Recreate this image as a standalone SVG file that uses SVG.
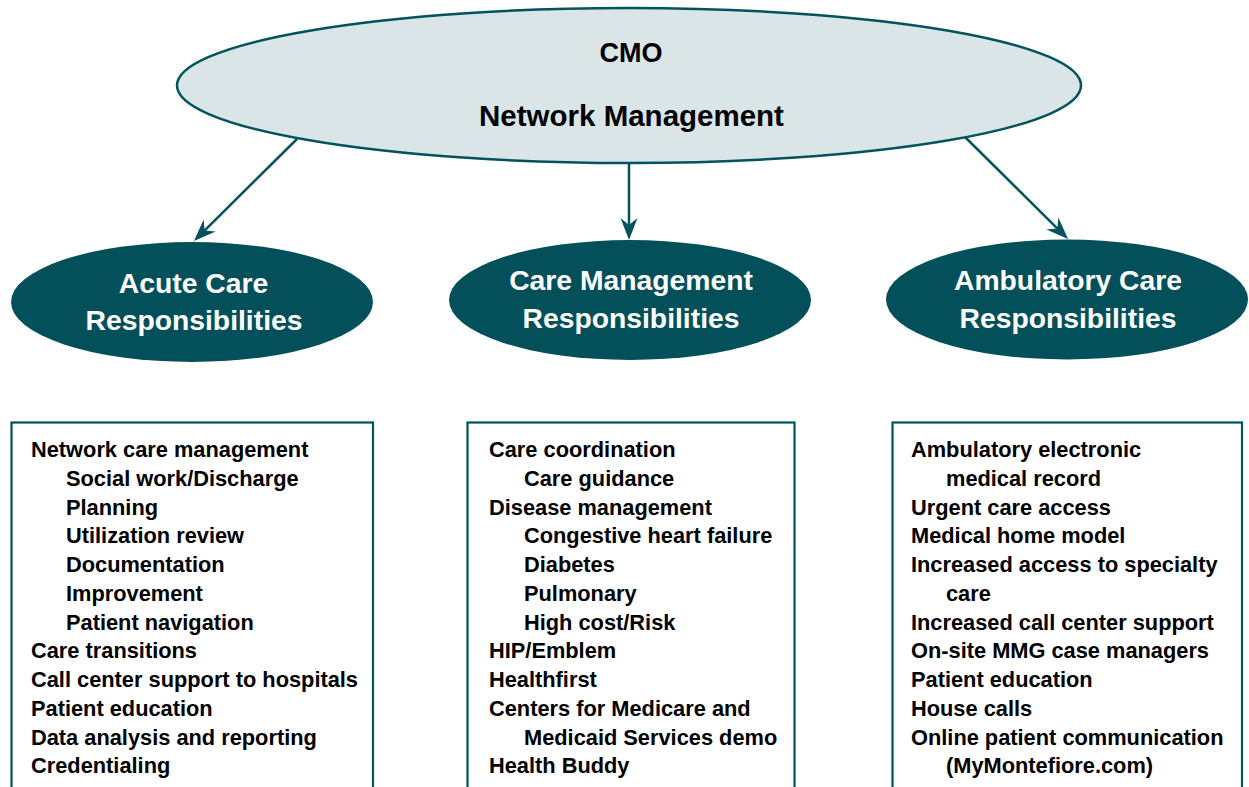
<svg xmlns="http://www.w3.org/2000/svg" width="1249" height="787" viewBox="0 0 1249 787">
  <style>
    .top { fill: #d9e5e7; stroke: #03525c; stroke-width: 2.5; }
    .role { fill: #03505a; }
    .box { fill: #ffffff; stroke: #03525c; stroke-width: 2.2; }
    .link { stroke: #03525c; stroke-width: 2.5; fill: none; marker-end: url(#head); }
    .t-top { font-family: "Liberation Sans", Arial, sans-serif; font-weight: bold; fill: #000; text-anchor: middle; }
    .t-role { font-family: "Liberation Sans", Arial, sans-serif; font-weight: bold; font-size: 28.3px; fill: #ffffff; text-anchor: middle; }
    .t-list { font-family: "Liberation Sans", Arial, sans-serif; font-weight: bold; font-size: 21.8px; fill: #000; }
  </style>
  <defs>
    <marker id="head" markerUnits="userSpaceOnUse" viewBox="-23 -10 24 20" refX="-12" refY="0" markerWidth="24" markerHeight="20" orient="auto">
      <path d="M0,0 L-22,-8.5 L-15,0 L-22,8.5 Z" fill="#03525c"/>
    </marker>
  </defs>

  <rect width="1249" height="787" fill="#ffffff"/>

  <!-- connectors -->
  <g id="connectors">
    <line class="link" x1="297" y1="139" x2="202.5" y2="232.6"/>
    <line class="link" x1="629" y1="163" x2="629" y2="228"/>
    <line class="link" x1="964" y1="136" x2="1059.5" y2="230.6"/>
  </g>

  <!-- root -->
  <g id="cmo">
    <ellipse class="top" cx="629" cy="85.5" rx="452" ry="77.5"/>
    <text class="t-top" x="631" y="62" font-size="27">CMO</text>
    <text class="t-top" x="631.5" y="126" font-size="29.5">Network Management</text>
  </g>

  <!-- branches -->
  <g id="acute">
    <ellipse class="role" cx="192" cy="302" rx="181" ry="60"/>
    <text class="t-role" x="193.5" y="293">Acute Care</text>
    <text class="t-role" x="194" y="330">Responsibilities</text>
  </g>
  <g id="caremgmt">
    <ellipse class="role" cx="630" cy="300" rx="181" ry="60"/>
    <text class="t-role" x="631" y="290">Care Management</text>
    <text class="t-role" x="631" y="328">Responsibilities</text>
  </g>
  <g id="ambulatory">
    <ellipse class="role" cx="1067" cy="299.5" rx="181" ry="60"/>
    <text class="t-role" x="1068" y="290">Ambulatory Care</text>
    <text class="t-role" x="1068" y="328">Responsibilities</text>
  </g>

  <!-- detail lists -->
  <g id="acute-list">
    <rect class="box" x="11.5" y="422.5" width="361.5" height="380"/>
    <text class="t-list" x="31" y="457">Network care management</text>
    <text class="t-list" x="66" y="485.7">Social work/Discharge</text>
    <text class="t-list" x="66" y="514.5">Planning</text>
    <text class="t-list" x="66" y="543.2">Utilization review</text>
    <text class="t-list" x="66" y="572">Documentation</text>
    <text class="t-list" x="66" y="600.7">Improvement</text>
    <text class="t-list" x="66" y="629.5">Patient navigation</text>
    <text class="t-list" x="31" y="658.2">Care transitions</text>
    <text class="t-list" x="31" y="687">Call center support to hospitals</text>
    <text class="t-list" x="31" y="715.7">Patient education</text>
    <text class="t-list" x="31" y="744.5">Data analysis and reporting</text>
    <text class="t-list" x="31" y="773.2">Credentialing</text>
  </g>
  <g id="caremgmt-list">
    <rect class="box" x="467.5" y="422.5" width="327" height="380"/>
    <text class="t-list" x="489" y="457">Care coordination</text>
    <text class="t-list" x="524" y="485.7">Care guidance</text>
    <text class="t-list" x="489" y="514.5">Disease management</text>
    <text class="t-list" x="524" y="543.2">Congestive heart failure</text>
    <text class="t-list" x="524" y="572">Diabetes</text>
    <text class="t-list" x="524" y="600.7">Pulmonary</text>
    <text class="t-list" x="524" y="629.5">High cost/Risk</text>
    <text class="t-list" x="489" y="658.2">HIP/Emblem</text>
    <text class="t-list" x="489" y="687">Healthfirst</text>
    <text class="t-list" x="489" y="715.7">Centers for Medicare and</text>
    <text class="t-list" x="524" y="744.5">Medicaid Services demo</text>
    <text class="t-list" x="489" y="773.2">Health Buddy</text>
  </g>
  <g id="ambulatory-list">
    <rect class="box" x="892.5" y="422.5" width="349.5" height="380"/>
    <text class="t-list" x="911" y="457">Ambulatory electronic</text>
    <text class="t-list" x="946" y="485.7">medical record</text>
    <text class="t-list" x="911" y="514.5">Urgent care access</text>
    <text class="t-list" x="911" y="543.2">Medical home model</text>
    <text class="t-list" x="911" y="572">Increased access to specialty</text>
    <text class="t-list" x="946" y="600.7">care</text>
    <text class="t-list" x="911" y="629.5">Increased call center support</text>
    <text class="t-list" x="911" y="658.2">On-site MMG case managers</text>
    <text class="t-list" x="911" y="687">Patient education</text>
    <text class="t-list" x="911" y="715.7">House calls</text>
    <text class="t-list" x="911" y="744.5">Online patient communication</text>
    <text class="t-list" x="946" y="773.2">(MyMontefiore.com)</text>
  </g>
</svg>
